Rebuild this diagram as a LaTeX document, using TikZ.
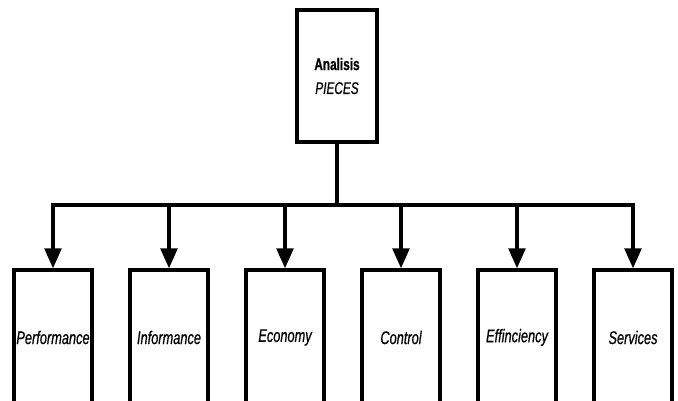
\documentclass[tikz,border=0pt]{standalone}
\usepackage{fontspec}
\usepackage{tikz}
\usetikzlibrary{arrows.meta,positioning}
\newfontfamily\narrowsans[FakeStretch=0.7,FakeBold=0.6]{Liberation Sans}
\tikzset{
  mainbox/.style  = {rectangle, draw=black, line width=2.4pt, fill=white,
                     minimum width=2.0cm, minimum height=3.3cm, align=center,
                     inner sep=1pt, font=\narrowsans\fontsize{12}{17}\selectfont},
  itembox/.style  = {rectangle, draw=black, line width=2.4pt, fill=white,
                     minimum width=1.95cm, minimum height=3.375cm, align=center,
                     inner sep=1pt, font=\narrowsans\itshape\fontsize{13}{15}\selectfont},
  link/.style     = {line width=2.4pt, black},
  linkarrow/.style= {line width=2.4pt, black, -{Triangle[length=0.5cm,width=0.42cm]}},
}
\begin{document}
\begin{tikzpicture}
\useasboundingbox (0,0) rectangle (16.95,10.025);
\clip (0,0) rectangle (16.95,10.025);
% top box
\node[mainbox] (pieces) at (8.425,8.125) {\textbf{Analisis}\\\textit{PIECES}};

% bus junction
\coordinate (junc) at (8.425,4.9);

% the six boxes
\node[itembox] (perf) at (1.325 ,1.5875) {Performance};
\node[itembox] (info) at (4.225 ,1.5875) {Informance};
\node[itembox] (econ) at (7.125 ,1.5875) {Economy};
\node[itembox] (ctrl) at (10.025,1.5875) {Control};
\node[itembox] (effi) at (12.925,1.5875) {Effinciency};
\node[itembox] (serv) at (15.825,1.5875) {Services};

% connectors
\draw[link] (pieces.south) -- (junc);
\foreach \b in {perf,info,econ,ctrl,effi,serv}
  \draw[linkarrow] (junc) -| (\b.north);
\end{tikzpicture}
\end{document}
